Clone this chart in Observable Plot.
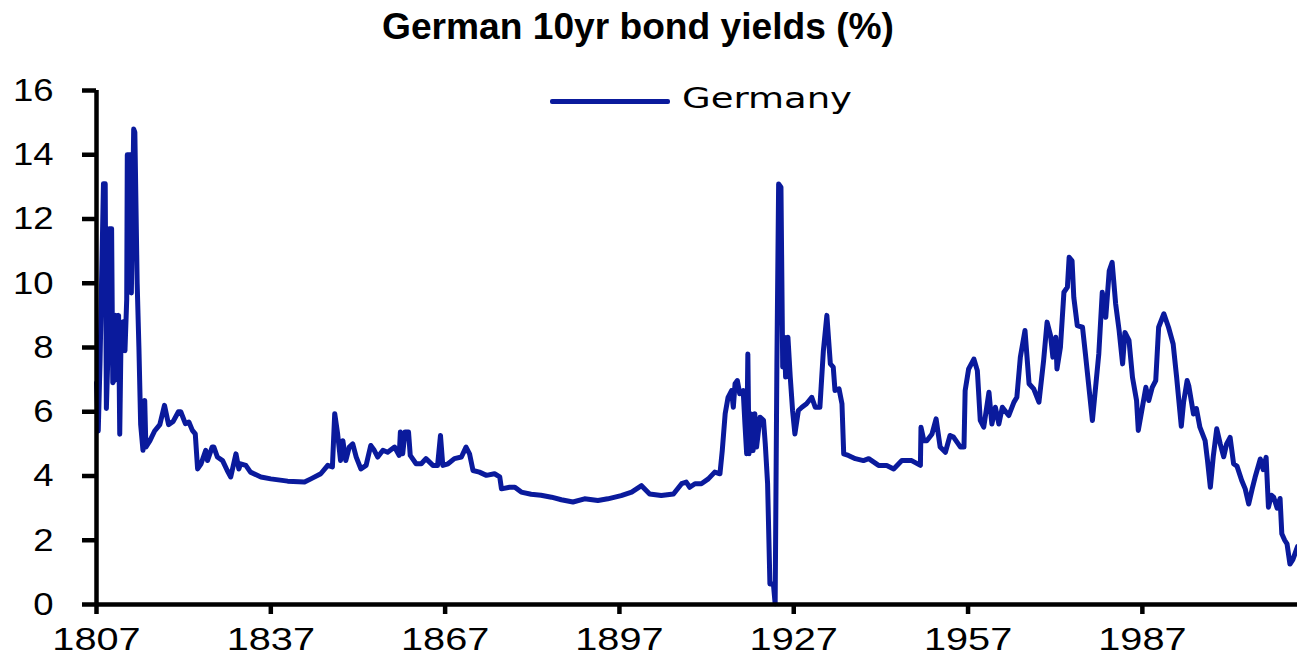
<!DOCTYPE html>
<html><head><meta charset="utf-8">
<script src="https://cdn.jsdelivr.net/npm/d3@7"></script>
<script src="https://cdn.jsdelivr.net/npm/@observablehq/plot@0.6"></script>
<style>
body{margin:0;background:#fff;}
#wrap{position:relative;width:1297px;height:658px;overflow:hidden;background:#fff;}
#title{position:absolute;left:382px;top:9px;font:bold 36px "Liberation Sans",Arial,sans-serif;line-height:36px;color:#000;white-space:nowrap;transform-origin:0 50%;}
#chart{position:absolute;left:0;top:55px;}
#legend{position:absolute;left:0;top:0;width:1297px;height:130px;pointer-events:none;}
#legText{position:absolute;left:682px;top:85px;font:28px "DejaVu Sans",Verdana,sans-serif;line-height:28px;color:#000;white-space:nowrap;transform-origin:0 50%;}
#legLine{position:absolute;left:550px;top:99px;width:120px;height:4.5px;background:#0a1a9c;border-radius:2px;}
</style></head><body>
<div id="wrap">
  <div id="title">German 10yr bond yields (%)</div>
  <div id="chart"></div>
  <div id="legend"><div id="legLine"></div><span id="legText">Germany</span></div>
</div>
<script>
const seriesName = "Germany";
const xTicks = [1807, 1837, 1867, 1897, 1927, 1957, 1987];
const yTicks = [0, 2, 4, 6, 8, 10, 12, 14, 16];
const years = [
 1807.0,1807.3,1807.6,1808.2,1808.5,1808.7,1809.0,1809.2,1809.6,1809.8,1810.1,1810.3,1810.5,1810.8,1811.0,1811.2,1811.6,1811.9,1812.2,1812.3,1812.9,1813.0,1813.4,1813.6,1814.0,1814.3,1814.6,1815.0,1815.3,1815.5,1816.2,1817.0,1817.9,1818.7,1819.4,1820.2,1821.1,1821.5,1822.3,1822.9,1823.5,1824.0,1824.4,1825.0,1825.8,1826.1,1826.9,1827.2,1827.8,1828.7,1829.5,1830.1,1831.0,1831.5,1831.8,1832.7,1833.5,1835.3,1837.0,1839.9,1842.8,1843.9,1845.6,1846.8,1847.6,1848.0,1848.5,1849.0,1849.4,1849.9,1850.5,1851.1,1851.7,1852.5,1853.4,1854.2,1854.8,1855.4,1856.3,1857.1,1858.3,1859.1,1859.3,1859.7,1860.1,1860.7,1861.0,1862.0,1862.9,1863.7,1864.9,1865.7,1866.2,1866.6,1867.5,1868.6,1869.8,1870.6,1871.2,1871.8,1872.9,1874.1,1875.5,1876.4,1876.7,1878.1,1879.0,1880.1,1881.8,1883.5,1885.3,1887.0,1889.0,1891.0,1893.3,1895.0,1897.3,1899.1,1900.8,1902.2,1904.2,1906.3,1907.7,1908.5,1909.1,1910.0,1911.1,1912.3,1913.4,1914.3,1914.7,1915.2,1915.7,1916.3,1916.6,1916.9,1917.3,1917.7,1918.3,1918.6,1918.9,1919.1,1919.3,1919.6,1920.0,1920.3,1920.6,1921.2,1921.8,1922.1,1922.5,1922.9,1923.5,1923.8,1924.1,1924.4,1924.8,1925.1,1925.4,1925.6,1926.0,1926.4,1926.8,1927.2,1927.8,1928.4,1929.2,1930.1,1930.7,1931.5,1932.1,1932.7,1933.3,1933.8,1934.1,1934.8,1935.3,1935.6,1936.4,1937.6,1939.0,1939.9,1941.6,1943.0,1944.2,1945.6,1947.3,1948.8,1948.9,1949.4,1949.9,1950.8,1951.5,1952.2,1953.1,1953.9,1954.5,1955.7,1956.3,1956.5,1957.1,1958.0,1958.6,1959.1,1959.7,1960.6,1961.1,1961.7,1962.3,1962.9,1964.0,1964.9,1965.4,1966.0,1966.8,1967.5,1968.3,1969.2,1970.0,1970.6,1971.2,1971.6,1972.1,1972.3,1972.9,1973.5,1974.1,1974.4,1974.9,1975.2,1975.8,1976.7,1977.2,1978.4,1979.5,1980.1,1980.7,1981.3,1981.8,1982.4,1983.0,1983.6,1984.0,1984.7,1985.3,1986.0,1986.3,1987.0,1987.6,1988.1,1988.7,1989.3,1989.8,1990.7,1991.5,1992.3,1992.9,1993.7,1994.1,1994.7,1995.0,1995.8,1996.3,1996.9,1997.8,1998.2,1998.7,1999.2,1999.8,2000.4,2001.0,2001.5,2002.1,2002.7,2003.3,2004.1,2004.7,2005.3,2005.9,2006.4,2007.3,2007.8,2008.3,2008.7,2009.2,2009.6,2010.2,2010.7,2011.0,2011.5,2011.9,2012.4,2012.9,2013.3,2013.7
];
const yields = [
 6.9,5.4,7.5,13.1,13.1,6.1,8.0,11.7,11.7,6.9,7.0,9.0,7.0,9.0,5.3,8.0,8.8,7.9,9.5,14.0,14.0,9.7,14.8,14.7,10.0,8.0,5.6,4.8,6.35,4.9,5.1,5.4,5.6,6.2,5.6,5.7,6.0,6.0,5.63,5.68,5.42,5.31,4.22,4.38,4.8,4.48,4.9,4.9,4.59,4.48,4.17,3.97,4.69,4.22,4.38,4.33,4.12,3.97,3.91,3.84,3.81,3.91,4.07,4.33,4.28,5.94,5.31,4.48,5.1,4.48,4.9,5.0,4.59,4.22,4.33,4.95,4.8,4.59,4.8,4.74,4.9,4.64,5.37,4.69,5.37,5.37,4.64,4.38,4.38,4.54,4.33,4.33,5.26,4.33,4.38,4.54,4.59,4.9,4.69,4.17,4.12,4.02,4.07,3.97,3.6,3.65,3.65,3.5,3.43,3.4,3.34,3.26,3.19,3.29,3.24,3.29,3.39,3.5,3.7,3.44,3.39,3.44,3.76,3.81,3.65,3.76,3.76,3.91,4.12,4.07,4.79,5.94,6.45,6.66,6.14,6.87,6.97,6.56,6.66,5.62,4.69,7.8,4.69,5.94,4.79,5.94,4.9,5.83,5.73,5.0,3.76,0.64,0.64,0.02,7.49,13.09,12.99,7.39,8.32,7.08,8.32,7.08,6.04,5.31,6.04,6.14,6.25,6.45,6.14,6.14,7.9,9.0,7.49,7.39,6.66,6.71,6.25,4.69,4.64,4.54,4.48,4.54,4.33,4.33,4.22,4.48,4.48,4.33,5.52,5.1,5.1,5.31,5.78,4.9,4.74,5.26,5.21,4.9,4.9,6.66,7.33,7.64,7.28,5.73,5.52,6.61,5.62,6.14,5.62,6.14,5.88,6.3,6.45,7.7,8.53,6.87,6.71,6.3,7.59,8.79,8.37,7.7,8.32,7.33,8.01,9.72,9.88,10.81,10.7,9.56,8.68,8.63,7.8,5.73,7.8,9.72,8.94,10.39,10.65,9.36,8.53,7.49,8.47,8.22,7.07,6.35,5.42,6.14,6.76,6.35,6.76,6.97,8.63,9.05,8.63,8.11,7.07,5.55,6.3,6.97,6.8,5.93,6.1,5.52,5.1,4.5,3.65,4.6,5.47,5.0,4.6,5.0,5.2,4.38,4.3,3.86,3.6,3.13,3.6,3.96,4.53,4.2,4.58,3.03,3.4,3.34,3.0,3.3,2.2,2.0,1.89,1.26,1.4,1.6,1.8
];
const data = years.map((y, i) => ({year: y, value: yields[i], series: seriesName}));

const chart = Plot.plot({
  width: 1297, height: 603,
  marginLeft: 96, marginRight: 0, marginTop: 35, marginBottom: 54,
  x: {domain: [1807, 2013.7]},
  y: {domain: [0, 16]},
  style: {fontFamily: '"Liberation Sans", Arial, sans-serif', fontSize: "32px", color: "#000", background: "transparent", overflow: "visible"},
  marks: [
    Plot.line(data, {x: "year", y: "value", stroke: "#0a1a9c", strokeWidth: 5, strokeLinejoin: "round", strokeLinecap: "round"}),
    Plot.ruleY([0], {stroke: "#000", strokeWidth: 4.5}),
    Plot.ruleX([1807], {y1: 0, y2: 16, stroke: "#000", strokeWidth: 4.5}),
    Plot.axisY({ticks: yTicks, tickSize: 14, tickPadding: 29, strokeWidth: 4.5, tickFormat: d => String(d), label: null, fontSize: 32}),
    Plot.axisX({ticks: xTicks, tickSize: 10, tickPadding: 13, strokeWidth: 4.5, tickFormat: d => String(d), label: null, fontSize: 32})
  ]
});
document.getElementById("chart").appendChild(chart);

function stretch(sel, f) {
  chart.querySelectorAll(sel).forEach(t => {
    const w = t.getComputedTextLength();
    if (w > 0) { t.setAttribute("textLength", (w * f).toFixed(1)); t.setAttribute("lengthAdjust", "spacingAndGlyphs"); }
  });
}
stretch('g[aria-label="x-axis tick label"] text', 1.24);
stretch('g[aria-label="y-axis tick label"] text', 1.14);

function fitWidth(el, target) {
  const w = el.getBoundingClientRect().width;
  if (w > 0) el.style.transform = `scaleX(${target / w})`;
}
fitWidth(document.getElementById("legText"), 170);
fitWidth(document.getElementById("title"), 512);
</script>
</body></html>
